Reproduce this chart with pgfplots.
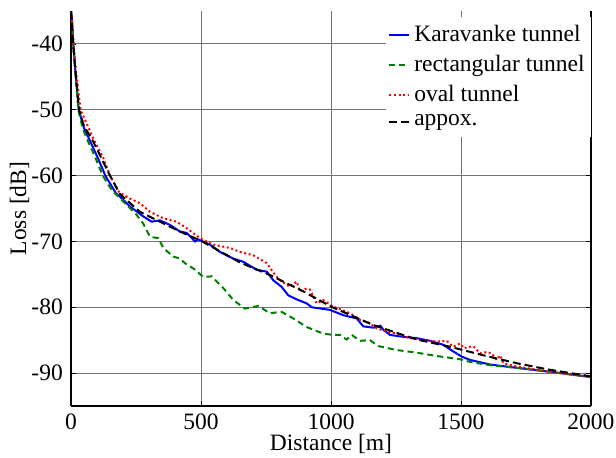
\documentclass[border=0pt]{standalone}
\usepackage{pgfplots}
\pgfplotsset{compat=1.18}
\usepackage{fontspec}
\setmainfont{Liberation Serif}
\begin{document}
\fontsize{11.75}{14}\selectfont
\begin{tikzpicture}
\begin{axis}[
  scale only axis, width=260pt, height=197.5pt,
  xmin=0, xmax=2000, ymin=-95, ymax=-35,
  axis x line*=bottom, axis y line*=box,
  xtick={0,500,1000,1500,2000},
  xticklabels={0,500,1000,1500,2000},
  ytick={-90,-80,-70,-60,-50,-40},
  yticklabels={-90,-80,-70,-60,-50,-40},
  tick align=inside, major tick length=2.5pt,
  tick style={black, line width=0.4pt},
  axis line style={black, line width=0.6pt},
  grid=major, major grid style={black!55, line width=0.45pt},
  xlabel={Distance [m]}, ylabel={Loss [dB]},
  xlabel style={yshift=6pt}, ylabel style={yshift=-7pt},
  legend style={at={(rel axis cs:1,1)}, anchor=north east, yshift=-3pt, draw=none, fill=white,
    inner xsep=1pt, inner ysep=2pt, row sep=1pt, cells={anchor=west}},
  legend image code/.code={\draw[#1, line width=1pt] (0pt,0pt) -- (10pt,0pt);},
]
\coordinate (sw) at (rel axis cs:0,0);
\addplot[color=blue, line width=1pt] coordinates {
(0,-35) (3,-36) (9,-40) (17,-44.2) (30,-50) (50,-52.8) (68,-54.3) (103,-57.3)
(132,-60) (173,-62.7) (188,-63.2) (227,-64.7) (278,-66.2) (310,-67.0) (342,-66.8)
(381,-67.5) (419,-68.5) (445,-68.7) (477,-70.0) (490,-69.7) (535,-70.5) (573,-71.6)
(624,-72.6) (663,-73.1) (714,-74.3) (753,-74.6) (778,-75.9) (810,-76.9) (836,-78.2)
(868,-78.8) (906,-79.4) (926,-80.0) (996,-80.4) (1047,-81.2) (1099,-81.7) (1124,-82.9)
(1163,-83.1) (1190,-82.8) (1201,-83.4) (1227,-84.2) (1278,-84.5) (1330,-84.7)
(1381,-85.1) (1432,-85.7) (1470,-86.7) (1503,-87.5) (1535,-88.0) (1612,-88.7)
(1714,-89.2) (1842,-89.8) (2000,-90.6)
};
\addlegendentry{Karavanke tunnel}
\addplot[color=green!50!black, line width=1pt, dash pattern=on 3pt off 2pt] coordinates {
(0,-35) (3,-36) (9,-40) (17,-44.2) (28,-50) (45,-52.8) (60,-54.3) (94,-57.3)
(122,-60) (160,-62.4) (188,-63.4) (220,-64.7) (253,-66.0) (278,-67.3) (304,-69.3)
(336,-69.5) (355,-71.0) (393,-72.3) (419,-72.6) (438,-73.3) (470,-74.1) (509,-75.4)
(541,-75.3) (586,-77.1) (624,-78.9) (669,-80.2) (720,-79.8) (765,-80.9) (810,-80.7)
(855,-81.7) (906,-83.0) (970,-84.0) (1009,-84.2) (1035,-84.2) (1060,-84.9)
(1080,-84.2) (1111,-85.1) (1150,-85.0) (1182,-85.9) (1253,-86.5) (1330,-86.9)
(1406,-87.4) (1496,-87.9) (1535,-88.3) (1612,-88.8) (1714,-89.2) (1842,-89.8)
(2000,-90.6)
};
\addlegendentry{rectangular tunnel}
\addplot[color=red, line width=1pt, dash pattern=on 1pt off 1.3pt] coordinates {
(0,-35) (3,-36) (10,-40) (19,-44.2) (37,-50) (85,-54.3) (124,-57.3) (150,-60)
(185,-62.5) (227,-63.5) (265,-64.2) (304,-65.5) (355,-66.5) (406,-67.0) (445,-68.0)
(496,-69.5) (547,-70.5) (612,-71.0) (650,-71.6) (701,-72.1) (753,-73.3) (785,-75.1)
(804,-75.9) (842,-76.9) (868,-76.1) (881,-77.6) (900,-77.2) (919,-77.3) (945,-79.4)
(970,-78.9) (1009,-79.9) (1035,-80.3) (1073,-80.9) (1111,-81.9) (1143,-82.3)
(1176,-83.2) (1214,-83.7) (1253,-84.0) (1304,-84.7) (1355,-85.0) (1406,-85.2)
(1445,-85.1) (1470,-86.0) (1496,-85.5) (1510,-86.2) (1547,-85.9) (1573,-87.0)
(1600,-86.8) (1618,-87.0) (1637,-88.0) (1650,-87.3) (1663,-88.5) (1714,-89.0)
(1842,-89.8) (2000,-90.6)
};
\addlegendentry{oval tunnel}
\addplot[color=black, line width=1pt, dash pattern=on 4pt off 2pt] coordinates {
(0,-35) (5,-38) (10,-41) (20,-45.5) (31,-50) (50,-52.5) (81,-54.5) (119,-57.5)
(150,-60) (188,-62.8) (265,-65.5) (342,-67.0) (419,-68.5) (500,-69.9) (573,-71.5)
(650,-73.2) (765,-75.1) (894,-77.6) (1000,-79.9) (1163,-82.7) (1330,-84.9)
(1458,-86.0) (1586,-87.3) (1714,-88.5) (1842,-89.5) (2000,-90.5)
};
\addlegendentry{appox.}
\end{axis}
\pgfresetboundingbox
\path (sw) ++(-35.5pt,-25.5pt) rectangle ++(308pt,228.5pt);
\end{tikzpicture}
\end{document}
